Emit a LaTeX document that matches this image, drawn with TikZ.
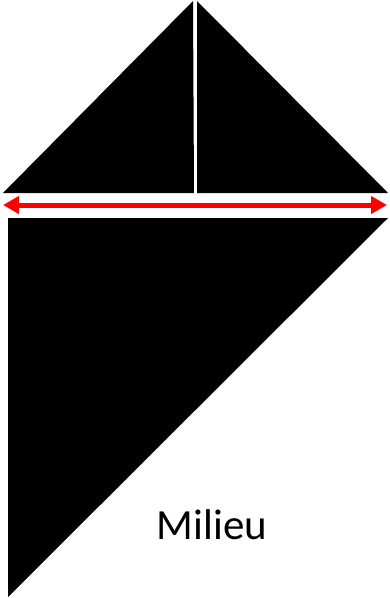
\documentclass[tikz,border=0pt]{standalone}
\usepackage{fontspec}
\setmainfont{Carlito}
\usetikzlibrary{arrows.meta}
\definecolor{ArrowRed}{RGB}{255, 0, 0}

\begin{document}
\begin{tikzpicture}[x=1pt, y=-1pt]
    \useasboundingbox (0,0) rectangle (390,598);

    % Top triangles
    \fill[black] (193,1) -- (3,193) -- (194,193) -- cycle;
    \fill[black] (197,1) -- (197,193) -- (388,193) -- cycle;

    % Width arrow
    \coordinate (leftEnd) at (3,205);
    \coordinate (rightEnd) at (387,205);
    \draw[ArrowRed, line width=5pt, {Triangle[length=16pt, width=17pt]}-{Triangle[length=16pt, width=17pt]}] (leftEnd) -- (rightEnd);

    % Bottom triangle
    \fill[black] (8,218) -- (388,218) -- (8,597) -- cycle;

    % Label
    \node[font=\fontsize{43}{52}\selectfont] (milieu) at (212,525) {Milieu};
\end{tikzpicture}
\end{document}
